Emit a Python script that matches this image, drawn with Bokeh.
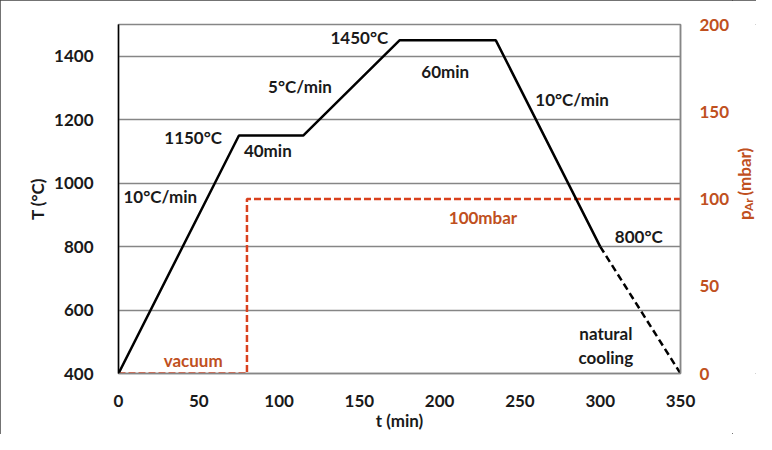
import math
from bokeh.plotting import figure
from bokeh.layouts import row
from bokeh.models import Range1d, LinearAxis, Label, FixedTicker
from bokeh.embed import file_html
from bokeh.resources import INLINE

# ---- data ----
t_heat = [0, 75, 115, 175, 235, 300]
T_heat = [400, 1150, 1150, 1450, 1450, 800]
t_cool = [300, 350]
T_cool = [800, 400]
t_press = [0, 80, 80, 350]
p_press = [0, 0, 100, 100]
x_ticks = [0, 50, 100, 150, 200, 250, 300, 350]
T_ticks = [400, 600, 800, 1000, 1200, 1400]
p_ticks = [0, 50, 100, 150, 200]

FONT = "Lato"
FS = "17px"
DARK = "#1a1a1a"
RED_LINE = "#D9411E"
RED_TEXT = "#C0501E"
GRID = "#868686"

W_MAIN, W_SIDE, H = 732, 24, 434

p = figure(width=W_MAIN, height=H, output_backend="svg", toolbar_location=None,
           x_range=Range1d(0, 350), y_range=Range1d(400, 1500),
           min_border_left=118, min_border_right=W_MAIN - 682, min_border_top=24,
           min_border_bottom=H - 373)
p.extra_y_ranges = {"p": Range1d(0, 200)}

p.outline_line_color = GRID
p.outline_line_width = 1.5
p.xgrid.grid_line_color = None
p.ygrid.grid_line_color = GRID
p.ygrid.grid_line_width = 1.5

# left axis
ya = p.yaxis[0]
ya.ticker = FixedTicker(ticks=T_ticks)
ya.axis_line_color = "black"
ya.axis_line_width = 1.5
ya.major_tick_line_color = None
ya.minor_tick_line_color = None
ya.major_label_standoff = 19
ya.major_label_text_font = FONT
ya.major_label_text_font_style = "bold"
ya.major_label_text_font_size = FS
ya.major_label_text_color = DARK
ya.axis_label = "T (°C)"
ya.axis_label_text_font = FONT
ya.axis_label_text_font_style = "bold"
ya.axis_label_text_font_size = FS
ya.axis_label_text_color = DARK
ya.axis_label_standoff = 3
p.ygrid.ticker = FixedTicker(ticks=T_ticks)

# bottom axis
xa = p.xaxis[0]
xa.ticker = FixedTicker(ticks=x_ticks)
xa.axis_line_color = GRID
xa.axis_line_width = 1.5
xa.major_tick_line_color = None
xa.minor_tick_line_color = None
xa.major_label_standoff = 15
xa.major_label_text_font = FONT
xa.major_label_text_font_style = "bold"
xa.major_label_text_font_size = FS
xa.major_label_text_color = DARK
xa.axis_label = "t (min)"
xa.axis_label_text_font = FONT
xa.axis_label_text_font_style = "bold"
xa.axis_label_text_font_size = FS
xa.axis_label_text_color = DARK
xa.axis_label_standoff = 0

# right axis
ra = LinearAxis(y_range_name="p", ticker=FixedTicker(ticks=p_ticks))
ra.axis_line_color = GRID
ra.axis_line_width = 1.5
ra.major_tick_line_color = None
ra.minor_tick_line_color = None
ra.major_label_standoff = 13
ra.major_label_text_font = FONT
ra.major_label_text_font_style = "bold"
ra.major_label_text_font_size = FS
ra.major_label_text_color = RED_TEXT
p.add_layout(ra, "right")

# lines
p.line(t_press, p_press, y_range_name="p", line_color=RED_LINE, line_width=2.5,
       line_dash="7 3")
p.line(t_heat, T_heat, line_color="black", line_width=2.5)
p.line(t_cool, T_cool, line_color="black", line_width=2.5, line_dash="7 4")


def lab(fig, x, y, text, color=DARK, **kw):
    opts = dict(x=x, y=y, text=text, text_font=FONT, text_font_style="bold",
                text_font_size=FS, text_color=color, text_align="center",
                text_baseline="middle")
    opts.update(kw)
    fig.add_layout(Label(**opts))


lab(p, 46.5, 1144, "1150°C")
lab(p, 93, 1103, "40min")
lab(p, 26, 958, "10°C/min")
lab(p, 113, 1305, "5°C/min")
lab(p, 150, 1459, "1450°C")
lab(p, 203.5, 1352, "60min")
lab(p, 282.5, 1264, "10°C/min")
lab(p, 324, 832, "800°C")
lab(p, 303.5, 526, "natural")
lab(p, 303.5, 451, "cooling")
lab(p, 46.5, 441, "vacuum", RED_TEXT)
lab(p, 227, 892, "100mbar", RED_TEXT)

# side strip holding the rotated right-axis title  p_Ar (mbar)
s = figure(width=W_SIDE, height=H, output_backend="svg", toolbar_location=None,
           x_range=Range1d(0, W_SIDE), y_range=Range1d(H, 0), min_border=0)
s.axis.visible = False
s.grid.visible = False
s.outline_line_color = None
lab(s, 12, 237, "p", RED_TEXT, angle=math.pi / 2)
lab(s, 15.5, 224, "Ar", RED_TEXT, angle=math.pi / 2, text_font_size="12px")
lab(s, 12, 183, "(mbar)", RED_TEXT, angle=math.pi / 2)

layout = row(p, s, spacing=0)
layout.styles = {"outline": "1px solid #444444", "outline-offset": "-1px"}

open("out.html", "w").write(file_html(layout, INLINE))
